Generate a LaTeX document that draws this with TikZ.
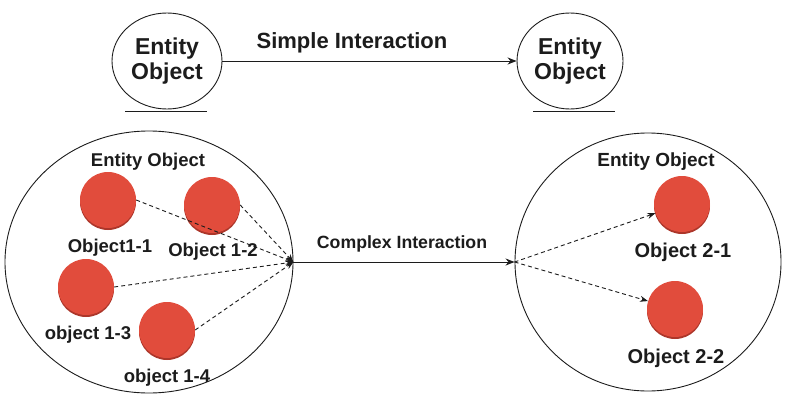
\documentclass[tikz,border=0pt]{standalone}
\usepackage{fontspec}
\setmainfont{Liberation Sans}
\usetikzlibrary{positioning, calc, shapes.geometric, arrows.meta, shadows}
\definecolor{objred}{RGB}{225,76,60}
\definecolor{objedge}{RGB}{172,54,42}
\definecolor{ink}{RGB}{28,28,28}

\tikzset{
  entity/.style={ellipse, draw=ink, line width=0.9pt, inner sep=0pt, align=center, text=ink,
    font=\fontsize{23}{25}\selectfont\bfseries},
  holder/.style={ellipse, draw=ink, line width=0.9pt, inner sep=0pt},
  obj/.style={circle, fill=objred, minimum size=56pt, inner sep=0pt,
    drop shadow={shadow xshift=0pt, shadow yshift=-2pt, fill=objedge, opacity=1}},
  lbl/.style={inner sep=0pt, text=ink, font=\fontsize{18.5}{20}\selectfont\bfseries},
  flow/.style={draw=ink, line width=0.9pt, dash pattern=on 4pt off 3pt, -{Stealth[length=8pt,width=6pt]}},
  link/.style={draw=ink, line width=1pt, -{Stealth[length=9pt,width=7pt]}}
}

\begin{document}
\begin{tikzpicture}[x=1pt, y=-1pt]
  \useasboundingbox (0,0) rectangle (786,396);
  % simple interaction
  \node[entity, minimum width=110pt, minimum height=96pt] (eA) at (167,61) {Entity\\Object};
  \node[entity, minimum width=106pt, minimum height=96pt] (eB) at (570,61) {Entity\\Object};
  \draw[ink, line width=1.4pt] ($(eA.south)+(-42,2)$) -- ($(eA.south)+(40,2)$);
  \draw[ink, line width=1.4pt] ($(eB.south)+(-37,2)$) -- ($(eB.south)+(45,2)$);
  \draw[link] (eA) -- (eB);
  \node[lbl, font=\fontsize{22}{24}\selectfont\bfseries] (simple) at (352,43) {Simple Interaction};

  % complex interaction
  \node[holder, minimum width=288pt, minimum height=262pt] (bigL) at (149,262) {};
  \node[holder, minimum width=266pt, minimum height=258pt] (bigR) at (648,262) {};
  \draw[link] (bigL.east) -- (bigR.west);
  \node[lbl, font=\fontsize{17.7}{19}\selectfont\bfseries] (complex) at (402,244) {Complex Interaction};

  % left entity
  \node[lbl] (titleL) at (148,162) {Entity Object};
  \node[obj] (o11) at (108,200) {};
  \node[obj] (o12) at (212,205) {};
  \node[obj] (o13) at (86,287) {};
  \node[obj] (o14) at (167,330) {};
  \node[lbl] (t11) at (110,248) {Object1-1};
  \node[lbl] (t12) at (213,252) {Object 1-2};
  \node[lbl] (t13) at (88,335) {object 1-3};
  \node[lbl] (t14) at (167,378) {object 1-4};
  \draw[flow] (o11.east) -- (bigL.east);
  \draw[flow] (o12.east) -- (bigL.east);
  \draw[flow] (o13.east) -- (bigL.east);
  \draw[flow] (o14.east) -- (bigL.east);

  % right entity
  \node[lbl, font=\fontsize{19}{21}\selectfont\bfseries] (titleR) at (656,162) {Entity Object};
  \node[obj] (o21) at (682,204) {};
  \node[obj] (o22) at (675,309) {};
  \node[lbl, font=\fontsize{20}{22}\selectfont\bfseries] (t21) at (683,252) {Object 2-1};
  \node[lbl, font=\fontsize{20}{22}\selectfont\bfseries] (t22) at (676,358) {Object 2-2};
  \draw[flow] (bigR.west) -- (o21);
  \draw[flow] (bigR.west) -- (o22);
\end{tikzpicture}
\end{document}
